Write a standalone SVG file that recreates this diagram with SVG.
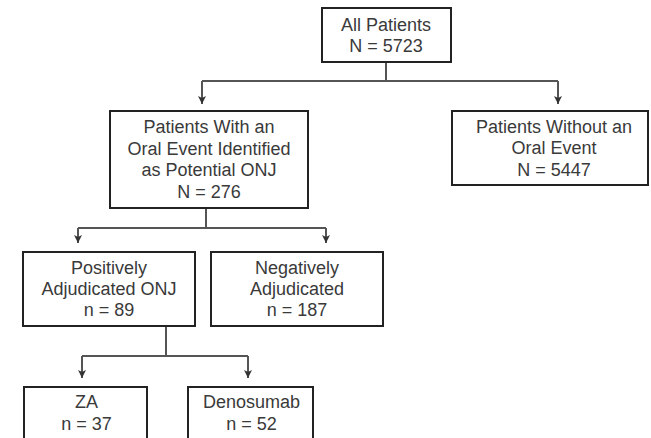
<svg xmlns="http://www.w3.org/2000/svg" width="651" height="438" viewBox="0 0 651 438">
<defs>
<style>
.box{fill:#fff;stroke:#222;stroke-width:2}
.t{font-family:"Liberation Sans",Arial,sans-serif;font-size:18px;fill:#3a3a3a;text-anchor:middle}
.c{fill:none;stroke:#555;stroke-width:2}
.a{fill:none;stroke:#555;stroke-width:2;marker-end:url(#ah)}
</style>
<marker id="ah" markerUnits="userSpaceOnUse" markerWidth="12" markerHeight="12" viewBox="-10 -6 12 12" refX="0" refY="0" orient="auto">
<path d="M0,0 L-8,-4 L-6,0 L-8,4 Z" fill="#333"/>
</marker>
</defs>
<rect width="651" height="438" fill="#fff"/>
<g id="connectors">
<path class="c" d="M386,62 V81 M202,81 H558"/>
<path class="a" d="M202,81 V104"/>
<path class="a" d="M558,81 V104"/>
<path class="c" d="M206,208 V228 M78,228 H326"/>
<path class="a" d="M78,228 V243"/>
<path class="a" d="M326,228 V243"/>
<path class="c" d="M166,326 V356 M82,356 H248"/>
<path class="a" d="M82,356 V378"/>
<path class="a" d="M248,356 V378"/>
</g>
<g id="all">
<rect class="box" x="322" y="8" width="129" height="54"/>
<text class="t" x="386" y="31">All Patients</text>
<text class="t" x="386" y="52">N = 5723</text>
</g>
<g id="with">
<rect class="box" x="110" y="111" width="198" height="97"/>
<text class="t" x="209" y="133">Patients With an</text>
<text class="t" x="209" y="154.5">Oral Event Identified</text>
<text class="t" x="209" y="176">as Potential ONJ</text>
<text class="t" x="209" y="197.5">N = 276</text>
</g>
<g id="without">
<rect class="box" x="452" y="111" width="196" height="74"/>
<text class="t" x="554" y="132.5">Patients Without an</text>
<text class="t" x="554" y="154">Oral Event</text>
<text class="t" x="554" y="175.5">N = 5447</text>
</g>
<g id="positive">
<rect class="box" x="23" y="252" width="172" height="74"/>
<text class="t" x="109" y="273.5">Positively</text>
<text class="t" x="109" y="295">Adjudicated ONJ</text>
<text class="t" x="109" y="316">n = 89</text>
</g>
<g id="negative">
<rect class="box" x="211" y="252" width="172" height="74"/>
<text class="t" x="297" y="273.5">Negatively</text>
<text class="t" x="297" y="295">Adjudicated</text>
<text class="t" x="297" y="316">n = 187</text>
</g>
<g id="za">
<rect class="box" x="24" y="387" width="123" height="60"/>
<text class="t" x="86.5" y="408">ZA</text>
<text class="t" x="86.5" y="430">n = 37</text>
</g>
<g id="denosumab">
<rect class="box" x="188" y="387" width="125" height="60"/>
<text class="t" x="251.5" y="408">Denosumab</text>
<text class="t" x="251.5" y="430">n = 52</text>
</g>
</svg>
